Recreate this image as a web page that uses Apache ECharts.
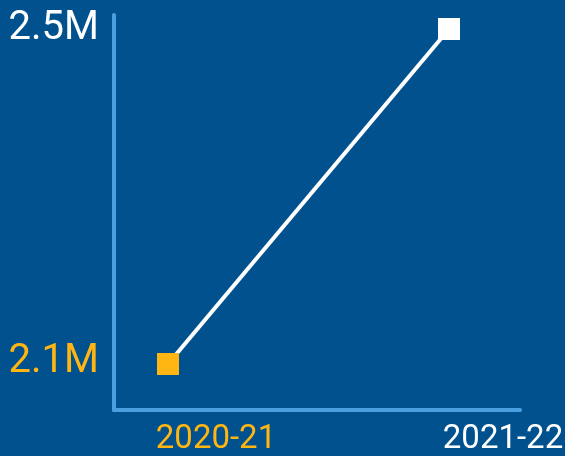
<!DOCTYPE html>
<html>
<head>
<meta charset="utf-8">
<script src="https://cdn.jsdelivr.net/npm/echarts@6/dist/echarts.min.js"></script>
<style>html,body{margin:0;padding:0;background:#01518e;}#c{width:565px;height:456px;}</style>
</head>
<body>
<div id="c"></div>
<script>
const categories = ['2020-21', '2021-22'];
const values = [2100000, 2500000];
const pointColors = ['#ffb612', '#ffffff'];
const yTicks = [2100000, 2500000];

const chart = echarts.init(document.getElementById('c'));
const axisColor = '#4a9fe0';
const fontFamily = 'Roboto, "Liberation Sans", sans-serif';

chart.setOption({
  backgroundColor: '#01518e',
  animation: false,
  grid: { left: 114, right: 45, top: 15, bottom: 46, containLabel: false, outerBoundsMode: 'none' },
  xAxis: {
    type: 'value',
    min: -0.1922,
    max: 1.2527,
    splitLine: { show: false },
    axisLine: { show: true, onZero: false, lineStyle: { color: axisColor, width: 4 } },
    axisTick: { show: false },
    axisLabel: {
      customValues: [0, 1],
      margin: 13,
      fontFamily: fontFamily,
      fontSize: 33,
      align: 'center',
      formatter: function (v) {
        const i = Math.round(v);
        return '{c' + i + '|' + categories[i] + '}';
      },
      rich: {
        c0: { color: pointColors[0], fontSize: 33, fontFamily: fontFamily, padding: [0, 0, 0, 96] },
        c1: { color: pointColors[1], fontSize: 33, fontFamily: fontFamily, padding: [0, 0, 0, 108] }
      }
    }
  },
  yAxis: {
    type: 'value',
    min: 2045100,
    max: 2516700,
    splitLine: { show: false },
    axisLine: { show: true, onZero: false, lineStyle: { color: axisColor, width: 4 } },
    axisTick: { show: false },
    axisLabel: {
      customValues: yTicks,
      margin: 15,
      fontFamily: fontFamily,
      fontSize: 40,
      formatter: function (v) {
        const i = yTicks.indexOf(v);
        return '{y' + i + '|' + (v / 1e6).toFixed(1) + 'M}';
      },
      rich: {
        y0: { color: pointColors[0], fontSize: 40, fontFamily: fontFamily, padding: [0, 0, 4, 0] },
        y1: { color: pointColors[1], fontSize: 40, fontFamily: fontFamily, padding: [0, 0, 0, 0] }
      }
    }
  },
  series: [{
    type: 'line',
    symbol: 'rect',
    symbolSize: 22,
    lineStyle: { color: '#ffffff', width: 4 },
    data: values.map(function (v, i) {
      return { value: [i, v], itemStyle: { color: pointColors[i] } };
    })
  }]
});
</script>
</body>
</html>
